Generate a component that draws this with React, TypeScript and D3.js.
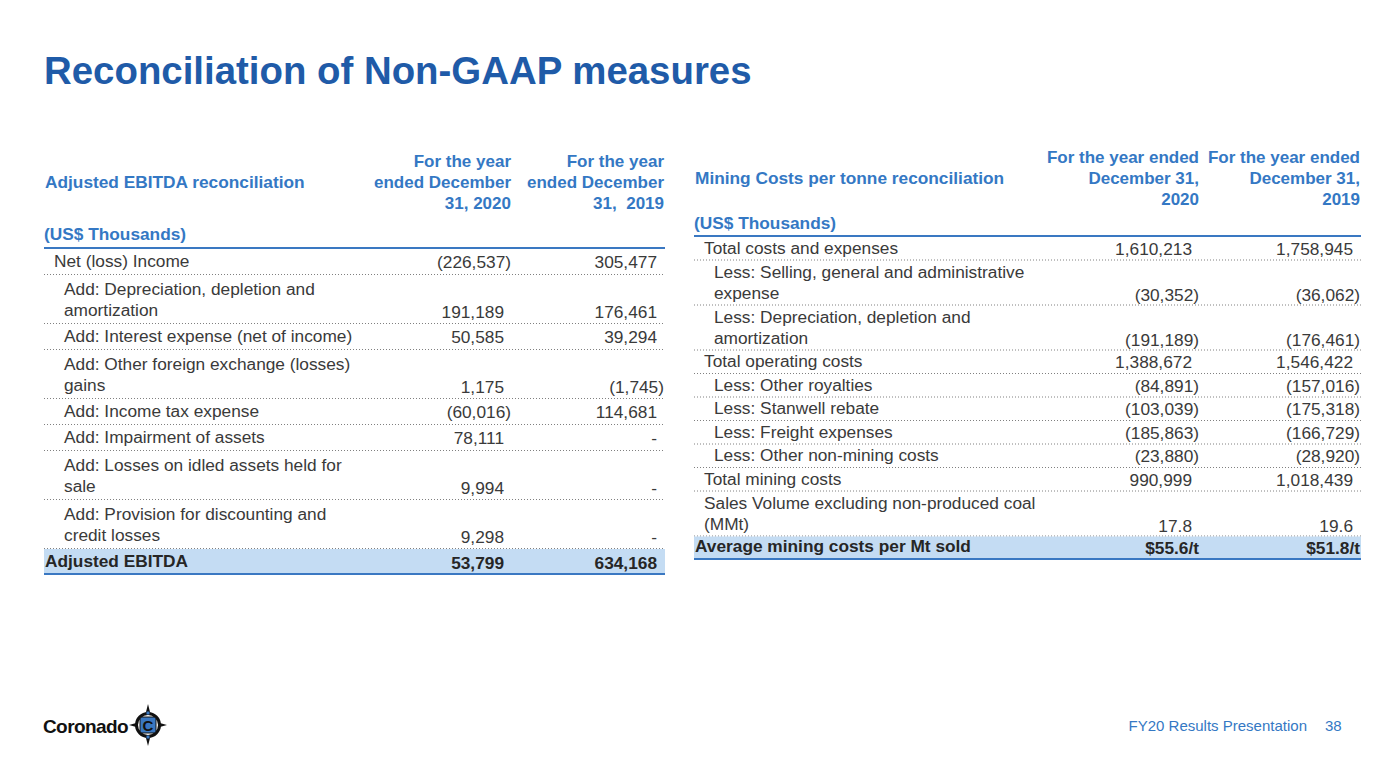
import React from "react";
import * as d3 from "d3";

// ---------- DATA ----------
const titleText = "Reconciliation of Non-GAAP measures";

const ebitdaTitle = "Adjusted EBITDA reconciliation";
const ebitdaColHeads = [
  ["For the year", "ended December", "31, 2020"],
  ["For the year", "ended December", "31,  2019"],
];
const ebitdaLabels = [
  "Net (loss) Income",
  "Add: Depreciation, depletion and\namortization",
  "Add: Interest expense (net of income)",
  "Add: Other foreign exchange (losses)\ngains",
  "Add: Income tax expense",
  "Add: Impairment of assets",
  "Add: Losses on idled assets held for\nsale",
  "Add: Provision for discounting and\ncredit losses",
];
const ebitda2020: (number | null)[] = [-226537, 191189, 50585, 1175, -60016, 78111, 9994, 9298];
const ebitda2019: (number | null)[] = [305477, 176461, 39294, -1745, 114681, null, null, null];
const ebitdaTotalLabel = "Adjusted EBITDA";
const ebitdaTotal = [53799, 634168];

const miningTitle = "Mining Costs per tonne reconciliation";
const miningColHeads = [
  ["For the year ended", "December 31,", "2020"],
  ["For the year ended", "December 31,", "2019"],
];
const miningLabels = [
  "Total costs and expenses",
  "Less: Selling, general and administrative\nexpense",
  "Less: Depreciation, depletion and\namortization",
  "Total operating costs",
  "Less: Other royalties",
  "Less: Stanwell rebate",
  "Less: Freight expenses",
  "Less: Other non-mining costs",
  "Total mining costs",
  "Sales Volume excluding non-produced coal\n(MMt)",
];
const mining2020: (number | null)[] = [1610213, -30352, -191189, 1388672, -84891, -103039, -185863, -23880, 990999, 17.8];
const mining2019: (number | null)[] = [1758945, -36062, -176461, 1546422, -157016, -175318, -166729, -28920, 1018439, 19.6];
const miningTotalLabel = "Average mining costs per Mt sold";
const miningTotal = [55.6, 51.8];

const unitsLabel = "(US$ Thousands)";
const footerText = "FY20 Results Presentation";
const pageNumber = "38";

// ---------- STYLE ----------
const FONT = "'Liberation Sans', Arial, Helvetica, sans-serif";
const TITLE_BLUE = "#1f5ba8";
const HEAD_BLUE = "#3478c4";
const LINE_BLUE = "#3a78c2";
const TEXT = "#3a3a3a";
const FILL = "#c4dcf3";
const DOT = "#808080";

const fmtInt = d3.format(",");
const fmtDec = d3.format(".1f");
function fmt(v: number | null): string {
  if (v === null) return "-";
  const s = Number.isInteger(v) ? fmtInt(Math.abs(v)) : fmtDec(Math.abs(v));
  return v < 0 ? `(${s})` : s;
}

type TableProps = {
  x0: number;
  x1: number;
  colRights: number[];
  headLines: string[][];
  headBase: number;
  headLineGap: number;
  title: string;
  titleBase: number;
  unitsBase: number;
  ruleY: number;
  labels: string[];
  v2020: (number | null)[];
  v2019: (number | null)[];
  rowH: number;
  extraLineH: number;
  labelGap: number;
  lineGap: number;
  valueOffset: number;
  totalLabel: string;
  totalValues: string[];
  totalH: number;
  totalShift: number;
  fontSize: number;
  headSize: number;
  indentStep: number;
};

function Table(p: TableProps) {
  const nLines = p.labels.map((l) => l.split("\n").length);
  const units = nLines.map((n) => 1 + ((n - 1) * p.extraLineH) / p.rowH);
  const cum = [0, ...Array.from(d3.cumsum(units))];
  const y = d3.scaleLinear().domain([0, 1]).range([p.ruleY, p.ruleY + p.rowH]);
  const lastBottom = y(cum[cum.length - 1]);
  const parenPad = 7;

  return (
    <g fontFamily={FONT}>
      <text x={p.x0 + 1} y={p.titleBase} fill={HEAD_BLUE} fontWeight="bold" fontSize={p.fontSize}>
        {p.title}
      </text>
      {p.headLines.map((lines, ci) =>
        lines.map((ln, li) => (
          <text
            key={`h${ci}-${li}`}
            x={p.colRights[ci]}
            y={p.headBase + li * p.headLineGap}
            textAnchor="end"
            fill={HEAD_BLUE}
            fontWeight="bold"
            fontSize={p.headSize}
            style={{ whiteSpace: "pre" }}
          >
            {ln}
          </text>
        ))
      )}
      <text x={p.x0} y={p.unitsBase} fill={HEAD_BLUE} fontWeight="bold" fontSize={p.fontSize}>
        {unitsLabel}
      </text>
      <line x1={p.x0} x2={p.x1} y1={p.ruleY} y2={p.ruleY} stroke={LINE_BLUE} strokeWidth={2} />

      {p.labels.map((lab, i) => {
        const bottom = y(cum[i + 1]);
        const lines = lab.split("\n");
        const indent = /^(Add|Less)/.test(lab) ? 2 : 1;
        const lastBase = bottom - p.labelGap;
        const vals = [p.v2020[i], p.v2019[i]];
        return (
          <g key={i}>
            {lines.map((ln, li) => (
              <text
                key={li}
                x={p.x0 + indent * p.indentStep}
                y={lastBase - (lines.length - 1 - li) * p.lineGap}
                fill={TEXT}
                fontSize={p.fontSize}
              >
                {ln}
              </text>
            ))}
            {vals.map((v, ci) => (
              <text
                key={`v${ci}`}
                x={v !== null && v < 0 ? p.colRights[ci] : p.colRights[ci] - parenPad}
                y={bottom - p.valueOffset + (lines.length > 1 ? 1 : 0)}
                textAnchor="end"
                fill={TEXT}
                fontSize={p.fontSize}
              >
                {fmt(v)}
              </text>
            ))}
            <line
              x1={p.x0}
              x2={p.x1}
              y1={bottom + 0.5}
              y2={bottom + 0.5}
              stroke={DOT}
              strokeWidth={1}
              strokeDasharray="1 2"
            />
          </g>
        );
      })}

      <rect x={p.x0} y={lastBottom + 1} width={p.x1 - p.x0} height={p.totalH - 1} fill={FILL} />
      <line
        x1={p.x0}
        x2={p.x1}
        y1={lastBottom + p.totalH}
        y2={lastBottom + p.totalH}
        stroke={LINE_BLUE}
        strokeWidth={2}
      />
      <text x={p.x0 + 1} y={lastBottom + p.totalH - 7} fill="#262626" fontWeight="bold" fontSize={p.fontSize}>
        {p.totalLabel}
      </text>
      {p.totalValues.map((tv, ci) => (
        <text
          key={`t${ci}`}
          x={p.colRights[ci] - p.totalShift}
          y={lastBottom + p.totalH - 5}
          textAnchor="end"
          fill="#262626"
          fontWeight="bold"
          fontSize={p.fontSize}
        >
          {tv}
        </text>
      ))}
    </g>
  );
}

function Logo() {
  const cx = 148;
  const cy = 725;
  return (
    <g>
      <text x={43} y={733} fontFamily={FONT} fontWeight="bold" fontSize={19} fill="#111" letterSpacing={-0.6}>
        Coronado
      </text>
      <circle cx={cx} cy={cy} r={11.5} fill="none" stroke="#111" strokeWidth={3} />
      <path d={`M${cx} ${cy - 21} L${cx + 2.5} ${cy - 11} L${cx - 2.5} ${cy - 11} Z`} fill="#111" />
      <path d={`M${cx} ${cy + 21} L${cx + 2.5} ${cy + 11} L${cx - 2.5} ${cy + 11} Z`} fill="#111" />
      <path d={`M${cx - 19} ${cy} L${cx - 10} ${cy - 2.5} L${cx - 10} ${cy + 2.5} Z`} fill="#111" />
      <path d={`M${cx + 19} ${cy} L${cx + 10} ${cy - 2.5} L${cx + 10} ${cy + 2.5} Z`} fill="#111" />
      <rect x={cx - 8} y={cy - 8} width={16} height={16} rx={2} fill="#3a78c2" stroke="#111" strokeWidth={1} />
      <text x={cx} y={cy + 5.5} textAnchor="middle" fontFamily={FONT} fontWeight="bold" fontSize={15} fill="#111">
        C
      </text>
      <rect x={cx - 1.5} y={cy - 13.5} width={3} height={3} fill="#3a78c2" />
      <rect x={cx - 1.5} y={cy + 10.5} width={3} height={3} fill="#3a78c2" />
    </g>
  );
}

export default function App() {
  return (
    <svg
      width={1386}
      height={780}
      viewBox="0 0 1386 780"
      style={{ position: "absolute", left: 0, top: 0, background: "#fff" }}
    >
      <rect width={1386} height={780} fill="#fff" />
      <text x={44} y={84} fontFamily={FONT} fontWeight="bold" fontSize={38.4} fill={TITLE_BLUE}>
        {titleText}
      </text>

      <Table
        x0={44}
        x1={665}
        colRights={[511, 664]}
        headLines={ebitdaColHeads}
        headBase={167}
        headLineGap={21}
        title={ebitdaTitle}
        titleBase={188}
        unitsBase={240}
        ruleY={248}
        labels={ebitdaLabels}
        v2020={ebitda2020}
        v2019={ebitda2019}
        rowH={26}
        extraLineH={23}
        labelGap={7}
        lineGap={21.5}
        valueOffset={6}
        totalLabel={ebitdaTotalLabel}
        totalValues={ebitdaTotal.map((v) => fmt(v))}
        totalH={26}
        totalShift={7}
        fontSize={17.3}
        headSize={17}
        indentStep={10}
      />

      <Table
        x0={694}
        x1={1361}
        colRights={[1199, 1360]}
        headLines={miningColHeads}
        headBase={163}
        headLineGap={21}
        title={miningTitle}
        titleBase={184}
        unitsBase={229}
        ruleY={236}
        labels={miningLabels}
        v2020={mining2020}
        v2019={mining2019}
        rowH={23.5}
        extraLineH={21.5}
        labelGap={6}
        lineGap={20.5}
        valueOffset={5}
        totalLabel={miningTotalLabel}
        totalValues={miningTotal.map((v) => `$${fmtDec(v)}/t`)}
        totalH={23.5}
        totalShift={0}
        fontSize={17.3}
        headSize={17}
        indentStep={10}
      />

      <text x={1307} y={731} textAnchor="end" fontFamily={FONT} fontSize={15} fill={HEAD_BLUE}>
        {footerText}
      </text>
      <text x={1325} y={731} fontFamily={FONT} fontSize={15} fill={HEAD_BLUE}>
        {pageNumber}
      </text>
      <Logo />
    </svg>
  );
}
